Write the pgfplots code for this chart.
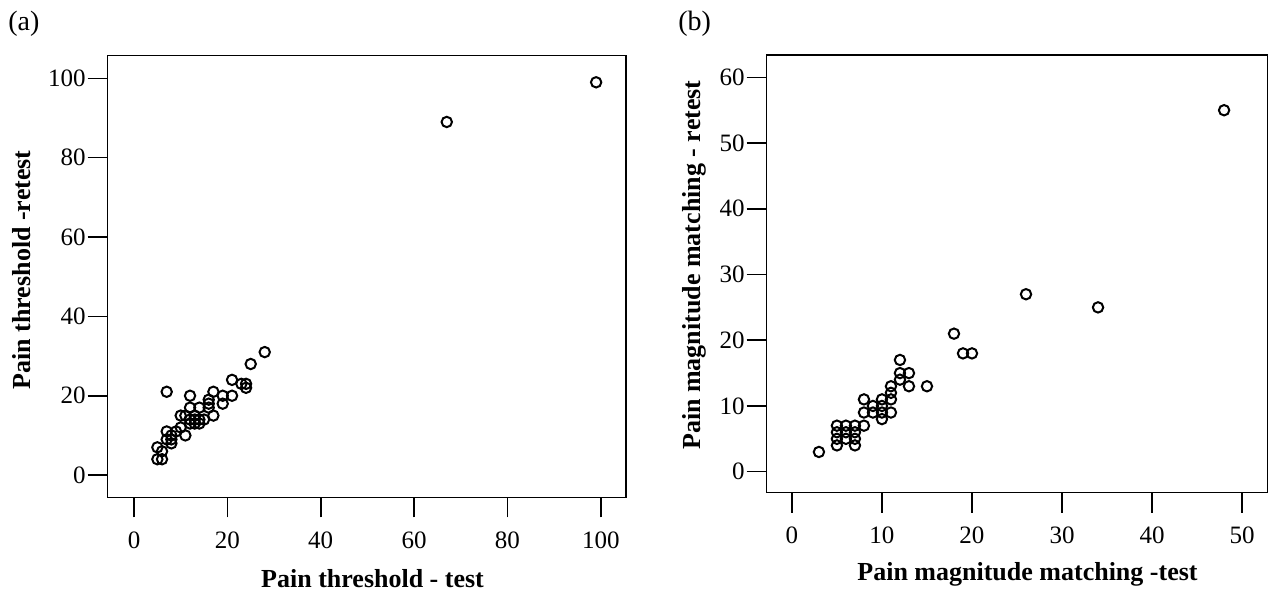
\documentclass[border=0pt]{standalone}
\usepackage{fontspec}
\setmainfont{Liberation Serif}
\usepackage{pgfplots}
\usepackage{pgfplotstable}
\pgfplotsset{compat=1.18}

% pain threshold: test vs retest
\pgfplotstableread{
x y
5 4
6 4
5 7
6 6
7 9
7 11
8 8
8 9
8 10
9 11
10 12
11 10
10 15
11 15
12 13
12 14
13 13
13 14
14 13
14 14
15 14
13 15
12 17
12 20
14 17
16 17
16 18
16 19
17 15
17 21
19 18
19 20
21 20
21 24
23 23
24 22
24 23
25 28
28 31
7 21
67 89
99 99
}\threshold

% pain magnitude matching: test vs retest
\pgfplotstableread{
x y
3 3
5 4
5 5
5 6
5 7
6 5
6 6
6 7
7 4
7 5
7 6
7 7
8 7
8 9
8 11
9 9
9 10
10 8
10 9
10 10
10 11
11 9
11 11
11 12
11 13
12 14
12 15
12 17
13 13
13 15
15 13
18 21
19 18
20 18
26 27
34 25
48 55
}\magnitude

\pgfplotsset{spss/.style={
  scale only axis,
  axis line style={line width=0.6pt},
  tick align=outside,
  major tick length=10pt,
  tick style={line width=0.8pt, black},
  xtick pos=bottom, ytick pos=left,
  ticklabel style={font=\fontsize{12.5}{14}\selectfont},
  xticklabel style={yshift=-3.5pt},
  yticklabel style={xshift=2.5pt},
  label style={font=\fontsize{13}{15}\selectfont\bfseries},
  /pgf/number format/assume math mode=true,
}}

\begin{document}
\begin{tikzpicture}
\path (0,0) rectangle (636.5pt,-296pt);

\begin{axis}[spss,
  at={(53.85pt,-248.65pt)}, anchor=south west,
  width=259.15pt, height=220.8pt,
  xmin=-5.64, xmax=105.4, ymin=-5.6, ymax=105.7,
  xtick={0,20,...,100}, ytick={0,20,...,100},
  xlabel={Pain threshold - test},
  ylabel={Pain threshold -retest},
  xlabel style={at={(axis description cs:0.511,-0.2038)}, anchor=base},
  ylabel style={at={(axis description cs:-0.1486,0.515)}, anchor=base},
]
\addplot[only marks, mark=o, mark size=2.6pt, black, line width=1pt] table {\threshold};
\end{axis}

\begin{axis}[spss,
  at={(383.35pt,-246.35pt)}, anchor=south west,
  width=250.3pt, height=218.85pt,
  xmin=-2.8, xmax=52.8, ymin=-3.2, ymax=63.4,
  xtick={0,10,...,50}, ytick={0,10,...,60},
  xlabel={Pain magnitude matching -test},
  ylabel={Pain magnitude matching - retest},
  xlabel style={at={(axis description cs:0.521,-0.1999)}, anchor=base},
  ylabel style={at={(axis description cs:-0.1332,0.52)}, anchor=base},
]
\addplot[only marks, mark=o, mark size=2.6pt, black, line width=1pt] table {\magnitude};
\end{axis}

\node[anchor=west, inner sep=0pt, font=\fontsize{14}{16}\selectfont] at (4pt,-12pt) {(a)};
\node[anchor=west, inner sep=0pt, font=\fontsize{14}{16}\selectfont] at (339pt,-12pt) {(b)};
\end{tikzpicture}
\end{document}
